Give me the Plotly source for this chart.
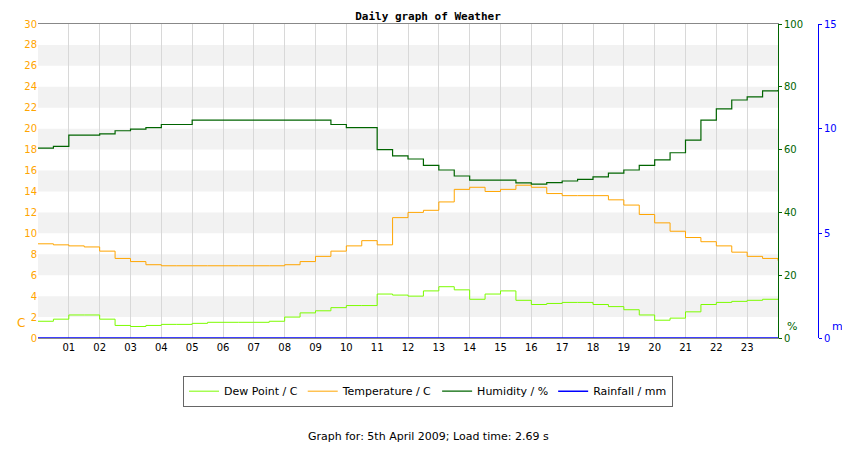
import plotly.graph_objects as go

hours = [i * 0.5 for i in range(49)]
temperature = [9.0, 8.9, 8.8, 8.7, 8.3, 7.6, 7.3, 7.0, 6.9, 6.9, 6.9, 6.9, 6.9, 6.9, 6.9, 6.9,
               7.0, 7.3, 7.8, 8.3, 8.8, 9.3, 8.9, 11.5, 12.0, 12.2, 13.0, 14.2, 14.4, 14.0,
               14.2, 14.6, 14.4, 13.8, 13.6, 13.6, 13.6, 13.2, 12.7, 11.8, 11.0, 10.2, 9.6,
               9.2, 8.8, 8.2, 7.8, 7.6, 7.4, 7.3][:49]
dewpoint = [1.6, 1.8, 2.2, 2.2, 1.8, 1.2, 1.1, 1.2, 1.3, 1.3, 1.4, 1.5, 1.5, 1.5, 1.5, 1.6,
            2.0, 2.4, 2.6, 2.9, 3.1, 3.1, 4.2, 4.1, 4.0, 4.5, 4.9, 4.6, 3.7, 4.2, 4.5, 3.6,
            3.2, 3.3, 3.4, 3.4, 3.2, 3.0, 2.7, 2.2, 1.7, 1.9, 2.5, 3.2, 3.4, 3.5, 3.6, 3.7, 3.7]
humidity = [60.5, 61, 64.6, 64.6, 65, 66, 66.5, 67, 68, 68, 69.4, 69.4, 69.4, 69.4, 69.4, 69.4,
            69.4, 69.4, 69.4, 68, 67, 67, 60, 58, 57, 55, 53.5, 51.6, 50.3, 50.3, 50.3, 49.4,
            49, 49.5, 50, 50.5, 51.3, 52.5, 53.5, 55, 56.7, 59, 63, 69.4, 73, 75.8, 76.8, 78.7, 79]
rainfall = [0.0] * 49

hour_ticks = list(range(1, 24))
hour_labels = [f"{h:02d}" for h in hour_ticks]
temp_ticks = list(range(0, 31, 2))
hum_ticks = [0, 20, 40, 60, 80, 100]
rain_ticks = [0, 5, 10, 15]

ORANGE = "#ffa500"; GREEN = "#006400"; LIME = "#7cfc00"; BLUE = "#0000ff"
F = "DejaVu Sans"

fig = go.Figure()
fig.add_trace(go.Scatter(x=hours, y=dewpoint, name="Dew Point / C", line=dict(color=LIME, width=1, shape="hv"), yaxis="y"))
fig.add_trace(go.Scatter(x=hours, y=temperature, name="Temperature / C", line=dict(color=ORANGE, width=1, shape="hv"), yaxis="y"))
fig.add_trace(go.Scatter(x=hours, y=humidity, name="Humidity / %", line=dict(color=GREEN, width=1.2, shape="hv"), yaxis="y2"))
fig.add_trace(go.Scatter(x=hours, y=rainfall, name="Rainfall / mm", line=dict(color=BLUE, width=1.5), yaxis="y3"))

shapes = []
for k in range(2, 30, 4):
    shapes.append(dict(type="rect", xref="x domain", yref="y", x0=0, x1=1, y0=k, y1=k + 2,
                       fillcolor="#f2f2f2", line_width=0, layer="below"))
fig.update_layout(
    width=850, height=450, plot_bgcolor="white", paper_bgcolor="white",
    margin=dict(l=30, r=40, t=16, b=120, autoexpand=False), shapes=shapes,
    font=dict(family=F, size=10, color="black"),
    title=dict(text="<b>Daily graph of Weather</b>", x=0.5, xref="paper", y=0.99, yanchor="top",
               font=dict(family="DejaVu Sans Mono", size=11)),
    xaxis=dict(domain=[0, 740 / 780], range=[0, 24], tickvals=hour_ticks, ticktext=hour_labels,
               showgrid=True, gridcolor="#d8d8d8", showline=True, linecolor="#888", mirror=True,
               ticks="", zeroline=False),
    yaxis=dict(range=[0, 30], tickvals=temp_ticks, tickfont=dict(color=ORANGE), showgrid=False,
               zeroline=False, showline=False, ticks=""),
    yaxis2=dict(range=[0, 100], tickvals=hum_ticks, overlaying="y", side="right", anchor="x",
                tickfont=dict(color=GREEN), showgrid=False, zeroline=False, showline=True,
                linecolor=GREEN, ticks="outside", ticklen=3, tickcolor=GREEN),
    yaxis3=dict(range=[0, 15], tickvals=rain_ticks, overlaying="y", side="right", anchor="free",
                position=1, tickfont=dict(color=BLUE), showgrid=False, zeroline=False,
                showline=True, linecolor=BLUE, ticks="outside", ticklen=3, tickcolor=BLUE),
    legend=dict(orientation="h", x=0.5, xanchor="center", y=-0.12, yanchor="top",
                bordercolor="#666", borderwidth=1, font=dict(size=11)),
    showlegend=True,
)
fig.add_annotation(text="C", xref="paper", yref="paper", x=-0.03, y=0.02, showarrow=False,
                   font=dict(color=ORANGE, size=12))
fig.add_annotation(text="%", xref="paper", yref="paper", x=0.975, y=0.01, showarrow=False,
                   font=dict(color=GREEN, size=11))
fig.add_annotation(text="mm", xref="paper", yref="paper", x=1.015, y=0.01, xanchor="left",
                   showarrow=False, font=dict(color=BLUE, size=11))
fig.add_annotation(text="Graph for: 5th April 2009; Load time: 2.69 s", xref="paper", yref="paper",
                   x=0.5, y=-0.315, yanchor="middle", showarrow=False, font=dict(size=11))
fig.write_html("out.html")
